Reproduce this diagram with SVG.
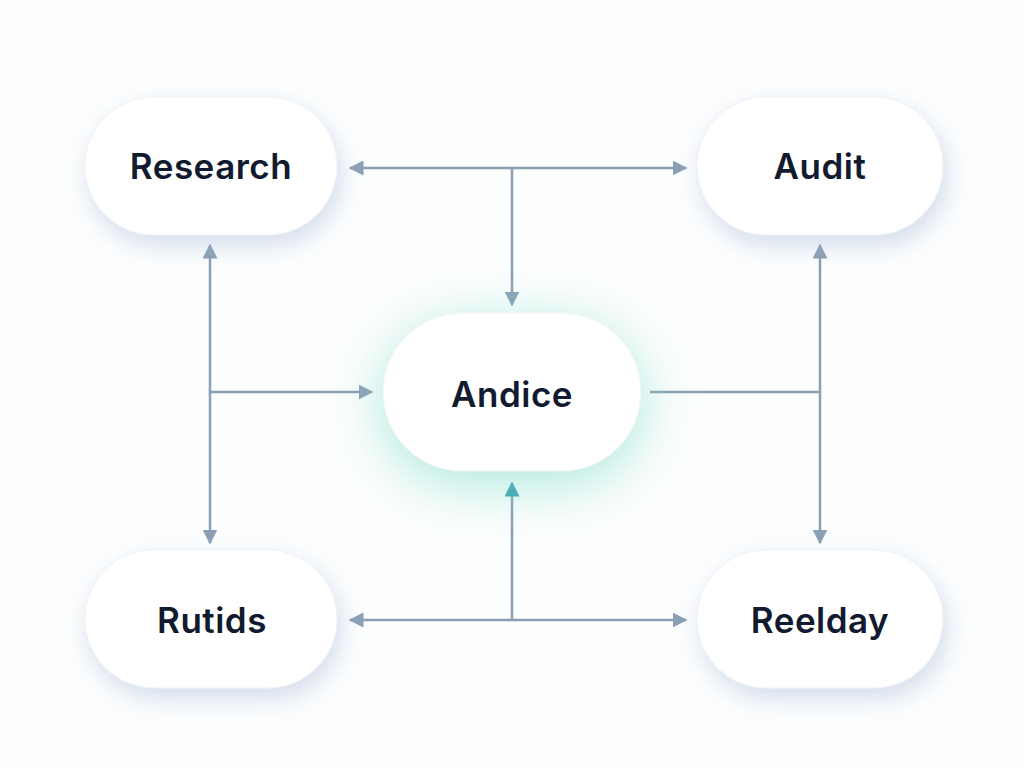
<svg xmlns="http://www.w3.org/2000/svg" width="1024" height="768" viewBox="0 0 1024 768">
<defs>
<style>
.node{fill:#ffffff;stroke:#eef2f7;stroke-width:1}
.lbl{font-family:Inter,"Liberation Sans",sans-serif;font-weight:600;font-size:35px;letter-spacing:0.5px;fill:#111a2e;text-anchor:middle;dominant-baseline:central}
.c{fill:none;stroke:#8a9fb4;stroke-width:2.5}
</style>
<filter id="sh" x="-30%" y="-30%" width="160%" height="170%"><feDropShadow dx="4" dy="10" stdDeviation="13" flood-color="#9fb3d6" flood-opacity="0.45"/></filter>
<filter id="gl" x="-50%" y="-50%" width="200%" height="210%"><feDropShadow dx="0" dy="12" stdDeviation="28" flood-color="#7fdcc8" flood-opacity="0.65"/></filter>
<marker id="a" viewBox="0 0 10 10" refX="9" refY="5" markerWidth="6" markerHeight="6" orient="auto-start-reverse"><path d="M0,0 L10,5 L0,10 z" fill="#8a9fb4"/></marker>
<marker id="t" viewBox="0 0 10 10" refX="9" refY="5" markerWidth="6" markerHeight="6" orient="auto"><path d="M0,0 L10,5 L0,10 z" fill="#3a9fb0"/></marker>
</defs>
<rect width="1024" height="768" fill="#fdfefe"/>
<g id="connectors">
<path class="c" d="M350,168 H686" marker-start="url(#a)" marker-end="url(#a)"/>
<path class="c" d="M512,168 V305" marker-end="url(#a)"/>
<path class="c" d="M210,245 V543" marker-start="url(#a)" marker-end="url(#a)"/>
<path class="c" d="M210,392 H372" marker-end="url(#a)"/>
<path class="c" d="M820,245 V543" marker-start="url(#a)" marker-end="url(#a)"/>
<path class="c" d="M650,392 H820"/>
<path class="c" d="M350,620 H686" marker-start="url(#a)" marker-end="url(#a)"/>
<path class="c" d="M512,620 V483" stroke="#5a9fb4" marker-end="url(#t)"/>
</g>
<g id="research"><rect class="node" filter="url(#sh)" x="85" y="97" width="252" height="138" rx="69"/><text class="lbl" x="211" y="166">Research</text></g>
<g id="audit"><rect class="node" filter="url(#sh)" x="697" y="97" width="246" height="138" rx="69"/><text class="lbl" x="820" y="166">Audit</text></g>
<g id="andice"><rect class="node" filter="url(#gl)" x="383" y="313" width="258" height="158" rx="79"/><text class="lbl" x="512" y="394">Andice</text></g>
<g id="rutids"><rect class="node" filter="url(#sh)" x="85" y="550" width="252" height="138" rx="69"/><text class="lbl" x="212" y="620">Rutids</text></g>
<g id="reelday"><rect class="node" filter="url(#sh)" x="697" y="550" width="246" height="138" rx="69"/><text class="lbl" x="820" y="620">Reelday</text></g>
</svg>
